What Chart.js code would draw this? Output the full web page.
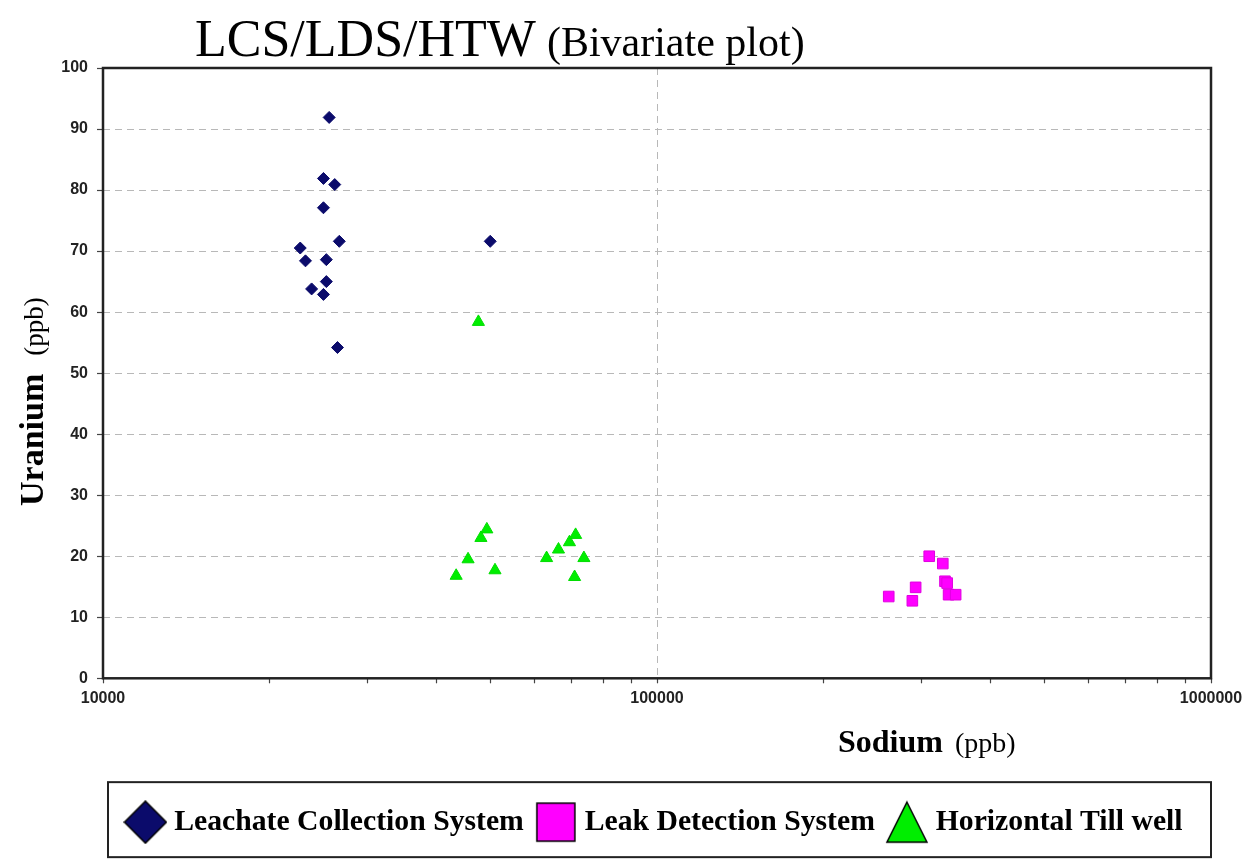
<!DOCTYPE html>
<html>
<head>
    <title>LCS/LDS/HTW Bivariate plot</title>
    <script src="https://cdn.jsdelivr.net/npm/chart.js"></script>
    <style>
        html, body { margin: 0; padding: 0; background: #fff; }
        #wrap { width: 1257px; height: 859px; }
    </style>
</head>
<body>

<div id="wrap"><canvas id="myChart" width="1257" height="859"></canvas></div>

<script>
    // Leachate Collection System
    const lcsSodium  = [25600, 25000, 26200, 25000, 26700, 50000, 22700, 23200, 25300, 25300, 23800, 25000, 26500];
    const lcsUranium = [91.9, 81.9, 80.9, 77.1, 71.6, 71.6, 70.5, 68.4, 68.6, 65.0, 63.8, 62.9, 54.2];

    // Leak Detection System
    const ldsSodium  = [310000, 328000, 293000, 262000, 289000, 331000, 334000, 336000, 346000];
    const ldsUranium = [20.0, 18.8, 14.9, 13.4, 12.7, 15.9, 15.6, 13.7, 13.7];

    // Horizontal Till well
    const htwSodium  = [47600, 49300, 48100, 45600, 43400, 51000, 63200, 66400, 69500, 71300, 73800, 71000];
    const htwUranium = [58.4, 24.4, 23.0, 19.5, 16.8, 17.7, 19.7, 21.1, 22.3, 23.5, 19.7, 16.6];

    const seriesNames = ['Leachate Collection System', 'Leak Detection System', 'Horizontal Till well'];

    const sodiumTicks = [10000, 20000, 30000, 40000, 50000, 60000, 70000, 80000, 90000,
                         100000, 200000, 300000, 400000, 500000, 600000, 700000, 800000, 900000, 1000000];
    const sodiumLabels = [10000, 100000, 1000000];
    const uraniumTicks = [0, 10, 20, 30, 40, 50, 60, 70, 80, 90, 100];

    function toPoints(xs, ys) {
        return xs.map((x, i) => ({ x: x, y: ys[i] }));
    }

    // bigger marker images for the legend
    function legendMarker(shape, fill) {
        const c = document.createElement('canvas');
        c.width = 44; c.height = 44;
        const g = c.getContext('2d');
        g.fillStyle = fill;
        g.strokeStyle = '#000';
        g.lineWidth = 1.5;
        g.beginPath();
        if (shape === 'diamond') {
            g.moveTo(22, 1); g.lineTo(43, 22); g.lineTo(22, 43); g.lineTo(1, 22);
        } else if (shape === 'square') {
            g.rect(3, 3, 38, 38);
        } else {
            g.moveTo(22, 2); g.lineTo(42, 42); g.lineTo(2, 42);
        }
        g.closePath();
        g.fill();
        g.stroke();
        return c;
    }
    const legendIcons = [
        legendMarker('diamond', '#0b0b6b'),
        legendMarker('square', '#ff00ff'),
        legendMarker('triangle', '#00ee00')
    ];

    const frameAndText = {
        id: 'frameAndText',
        afterDraw(chart) {
            const ctx = chart.ctx;
            const a = chart.chartArea;
            ctx.save();

            // plot frame
            ctx.strokeStyle = '#222';
            ctx.lineWidth = 2.5;
            ctx.strokeRect(a.left, a.top, a.right - a.left, a.bottom - a.top);

            // title
            ctx.fillStyle = '#000';
            ctx.textBaseline = 'alphabetic';
            ctx.textAlign = 'left';
            ctx.font = '52px "Liberation Serif", "Times New Roman", serif';
            ctx.fillText('LCS/LDS/HTW', 195, 56);
            let w = ctx.measureText('LCS/LDS/HTW').width;
            ctx.font = '42px "Liberation Serif", "Times New Roman", serif';
            ctx.fillText('(Bivariate plot)', 195 + w + 11, 56);

            // x axis title
            ctx.font = 'bold 32px "Liberation Serif", "Times New Roman", serif';
            ctx.fillText('Sodium', 838, 752);
            w = ctx.measureText('Sodium').width;
            ctx.font = '28px "Liberation Serif", "Times New Roman", serif';
            ctx.fillText('(ppb)', 838 + w + 12, 752);

            // y axis title
            ctx.translate(43, 506);
            ctx.rotate(-Math.PI / 2);
            ctx.font = 'bold 34px "Liberation Serif", "Times New Roman", serif';
            ctx.fillText('Uranium', 0, 0);
            w = ctx.measureText('Uranium').width;
            ctx.font = '27px "Liberation Serif", "Times New Roman", serif';
            ctx.fillText('(ppb)', w + 18, 0);
            ctx.setTransform(1, 0, 0, 1, 0, 0);

            // legend box
            const boxes = chart.legend.legendHitBoxes;
            if (boxes && boxes.length) {
                const cy = boxes[0].top + boxes[0].height / 2;
                ctx.strokeStyle = '#222';
                ctx.lineWidth = 2;
                ctx.strokeRect(a.left + 5, cy - 40, a.right - a.left - 5, 75);
            }
            ctx.restore();
        }
    };

    const ctx = document.getElementById('myChart').getContext('2d');
    const chart = new Chart(ctx, {
        type: 'scatter',
        data: {
            datasets: [
                {
                    label: seriesNames[0],
                    data: toPoints(lcsSodium, lcsUranium),
                    pointStyle: 'rectRot',
                    pointRadius: 6,
                    backgroundColor: '#0b0b6b',
                    borderColor: '#0b0b6b',
                    borderWidth: 1
                },
                {
                    label: seriesNames[1],
                    data: toPoints(ldsSodium, ldsUranium),
                    pointStyle: 'rect',
                    pointRadius: 7.5,
                    backgroundColor: '#ff00ff',
                    borderColor: '#e000e0',
                    borderWidth: 1
                },
                {
                    label: seriesNames[2],
                    data: toPoints(htwSodium, htwUranium),
                    pointStyle: 'triangle',
                    pointRadius: 7,
                    backgroundColor: '#00ee00',
                    borderColor: '#00dd00',
                    borderWidth: 1
                }
            ]
        },
        options: {
            responsive: false,
            animation: false,
            layout: {
                padding: { top: 68, left: 0, right: 46, bottom: 12 }
            },
            scales: {
                x: {
                    type: 'logarithmic',
                    min: 10000,
                    max: 1000000,
                    afterBuildTicks: (scale) => {
                        scale.ticks = sodiumTicks.map(v => ({ value: v }));
                    },
                    afterFit: (scale) => { scale.height = 111; },
                    ticks: {
                        autoSkip: false,
                        maxRotation: 0,
                        padding: 6,
                        color: '#222',
                        font: { family: 'Arial, "Liberation Sans", sans-serif', size: 16, weight: 'bold' },
                        callback: (v) => sodiumLabels.includes(v) ? String(v) : ''
                    },
                    grid: {
                        color: (c) => c.tick && c.tick.value === 100000 ? '#b8b8b8' : 'rgba(0,0,0,0)',
                        tickColor: '#444',
                        tickLength: 5,
                        tickWidth: 1.2,
                        lineWidth: 1
                    },
                    border: { display: false, dash: [7, 5] }
                },
                y: {
                    min: 0,
                    max: 100,
                    afterBuildTicks: (scale) => {
                        scale.ticks = uraniumTicks.map(v => ({ value: v }));
                    },
                    afterFit: (scale) => { scale.width = 103; },
                    ticks: {
                        padding: 9,
                        color: '#222',
                        font: { family: 'Arial, "Liberation Sans", sans-serif', size: 16, weight: 'bold' }
                    },
                    grid: {
                        color: (c) => c.tick && (c.tick.value === 0 || c.tick.value === 100) ? 'rgba(0,0,0,0)' : '#b8b8b8',
                        tickColor: '#444',
                        tickLength: 6,
                        tickWidth: 1.2,
                        lineWidth: 1
                    },
                    border: { display: false, dash: [7, 5] }
                }
            },
            plugins: {
                title: { display: false },
                tooltip: { enabled: false },
                legend: {
                    position: 'bottom',
                    fullSize: false,
                    labels: {
                        usePointStyle: true,
                        pointStyleWidth: 28,
                        padding: 18,
                        color: '#000',
                        font: { family: '"Liberation Serif", "Times New Roman", serif', size: 29.7, weight: 'bold' },
                        generateLabels: (chart) => {
                            const items = Chart.defaults.plugins.legend.labels.generateLabels(chart);
                            items.forEach((it, i) => { it.pointStyle = legendIcons[i]; });
                            return items;
                        }
                    }
                }
            }
        },
        plugins: [frameAndText]
    });
</script>

</body>
</html>
